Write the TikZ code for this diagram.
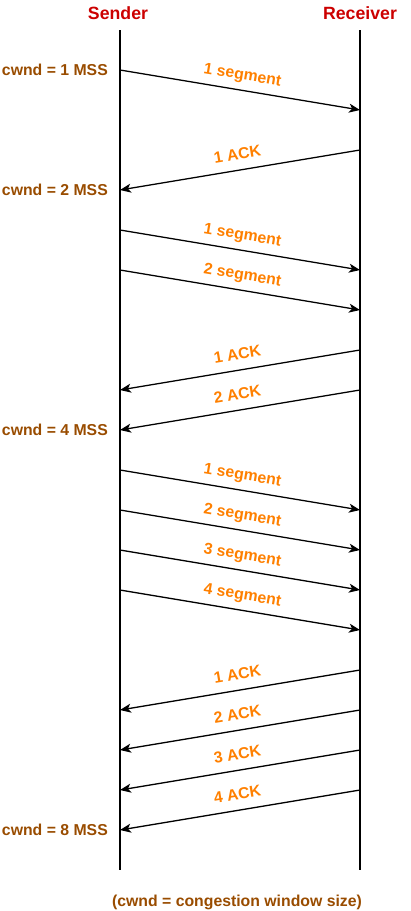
\documentclass[tikz,border=0pt]{standalone}
\usepackage{fontspec}
\setmainfont{Liberation Sans}
\usetikzlibrary{arrows.meta}
\definecolor{titlered}{HTML}{CC0000}
\definecolor{cwndbrown}{HTML}{994C00}
\definecolor{msgorange}{HTML}{FF8000}
\tikzset{
  lifeline/.style={line width=1.6pt},
  msg/.style={line width=1.3pt, -{Stealth[length=11pt,width=9pt,inset=3pt]}},
  msglabel/.style={sloped, above=10pt, inner sep=0pt, text depth=0pt, text=msgorange,
    font=\fontsize{15.8}{19}\selectfont\bfseries},
  cwndlabel/.style={left=12pt, inner sep=0pt, text=cwndbrown,
    font=\fontsize{15.8}{19}\selectfont\bfseries},
  partytitle/.style={text=titlered, font=\fontsize{17.7}{21}\selectfont\bfseries}
}
\begin{document}
\begin{tikzpicture}[x=1pt,y=-1pt]
        % 画像の大きさ
        \useasboundingbox (0,0) rectangle (411,911);
        % 送信側と受信側の点
        \foreach \k in {0,...,21} {
          \coordinate (s\k) at (120,30+40*\k);
          \coordinate (r\k) at (360,30+40*\k);
        }
        % 見出し
        \node[partytitle] (sender) at (118,13) {Sender};
        \node[partytitle] (receiver) at (360,13) {Receiver};
        % 縦線
        \draw[lifeline] (s0) -- (s21);
        \draw[lifeline] (r0) -- (r21);
        % cwnd = 1 MSS
        \node[cwndlabel] (cwnd1) at (s1) {cwnd = 1 MSS};
        \draw[msg] (s1) -- node[msglabel] {1 segment} (r2);
        \draw[msg] (r3) -- node[msglabel] {1 ACK} (s4);
        % cwnd = 2 MSS
        \node[cwndlabel] (cwnd2) at (s4) {cwnd = 2 MSS};
        \draw[msg] (s5) -- node[msglabel] {1 segment} (r6);
        \draw[msg] (s6) -- node[msglabel] {2 segment} (r7);
        \draw[msg] (r8) -- node[msglabel] {1 ACK} (s9);
        \draw[msg] (r9) -- node[msglabel] {2 ACK} (s10);
        % cwnd = 4 MSS
        \node[cwndlabel] (cwnd4) at (s10) {cwnd = 4 MSS};
        \draw[msg] (s11) -- node[msglabel] {1 segment} (r12);
        \draw[msg] (s12) -- node[msglabel] {2 segment} (r13);
        \draw[msg] (s13) -- node[msglabel] {3 segment} (r14);
        \draw[msg] (s14) -- node[msglabel] {4 segment} (r15);
        \draw[msg] (r16) -- node[msglabel] {1 ACK} (s17);
        \draw[msg] (r17) -- node[msglabel] {2 ACK} (s18);
        \draw[msg] (r18) -- node[msglabel] {3 ACK} (s19);
        \draw[msg] (r19) -- node[msglabel] {4 ACK} (s20);
        % cwnd = 8 MSS
        \node[cwndlabel] (cwnd8) at (s20) {cwnd = 8 MSS};
        % 注記
        \node[text=cwndbrown, font=\fontsize{15.8}{19}\selectfont\bfseries] (note) at (237,902)
          {(cwnd = congestion window size)};
      \end{tikzpicture}
\end{document}
